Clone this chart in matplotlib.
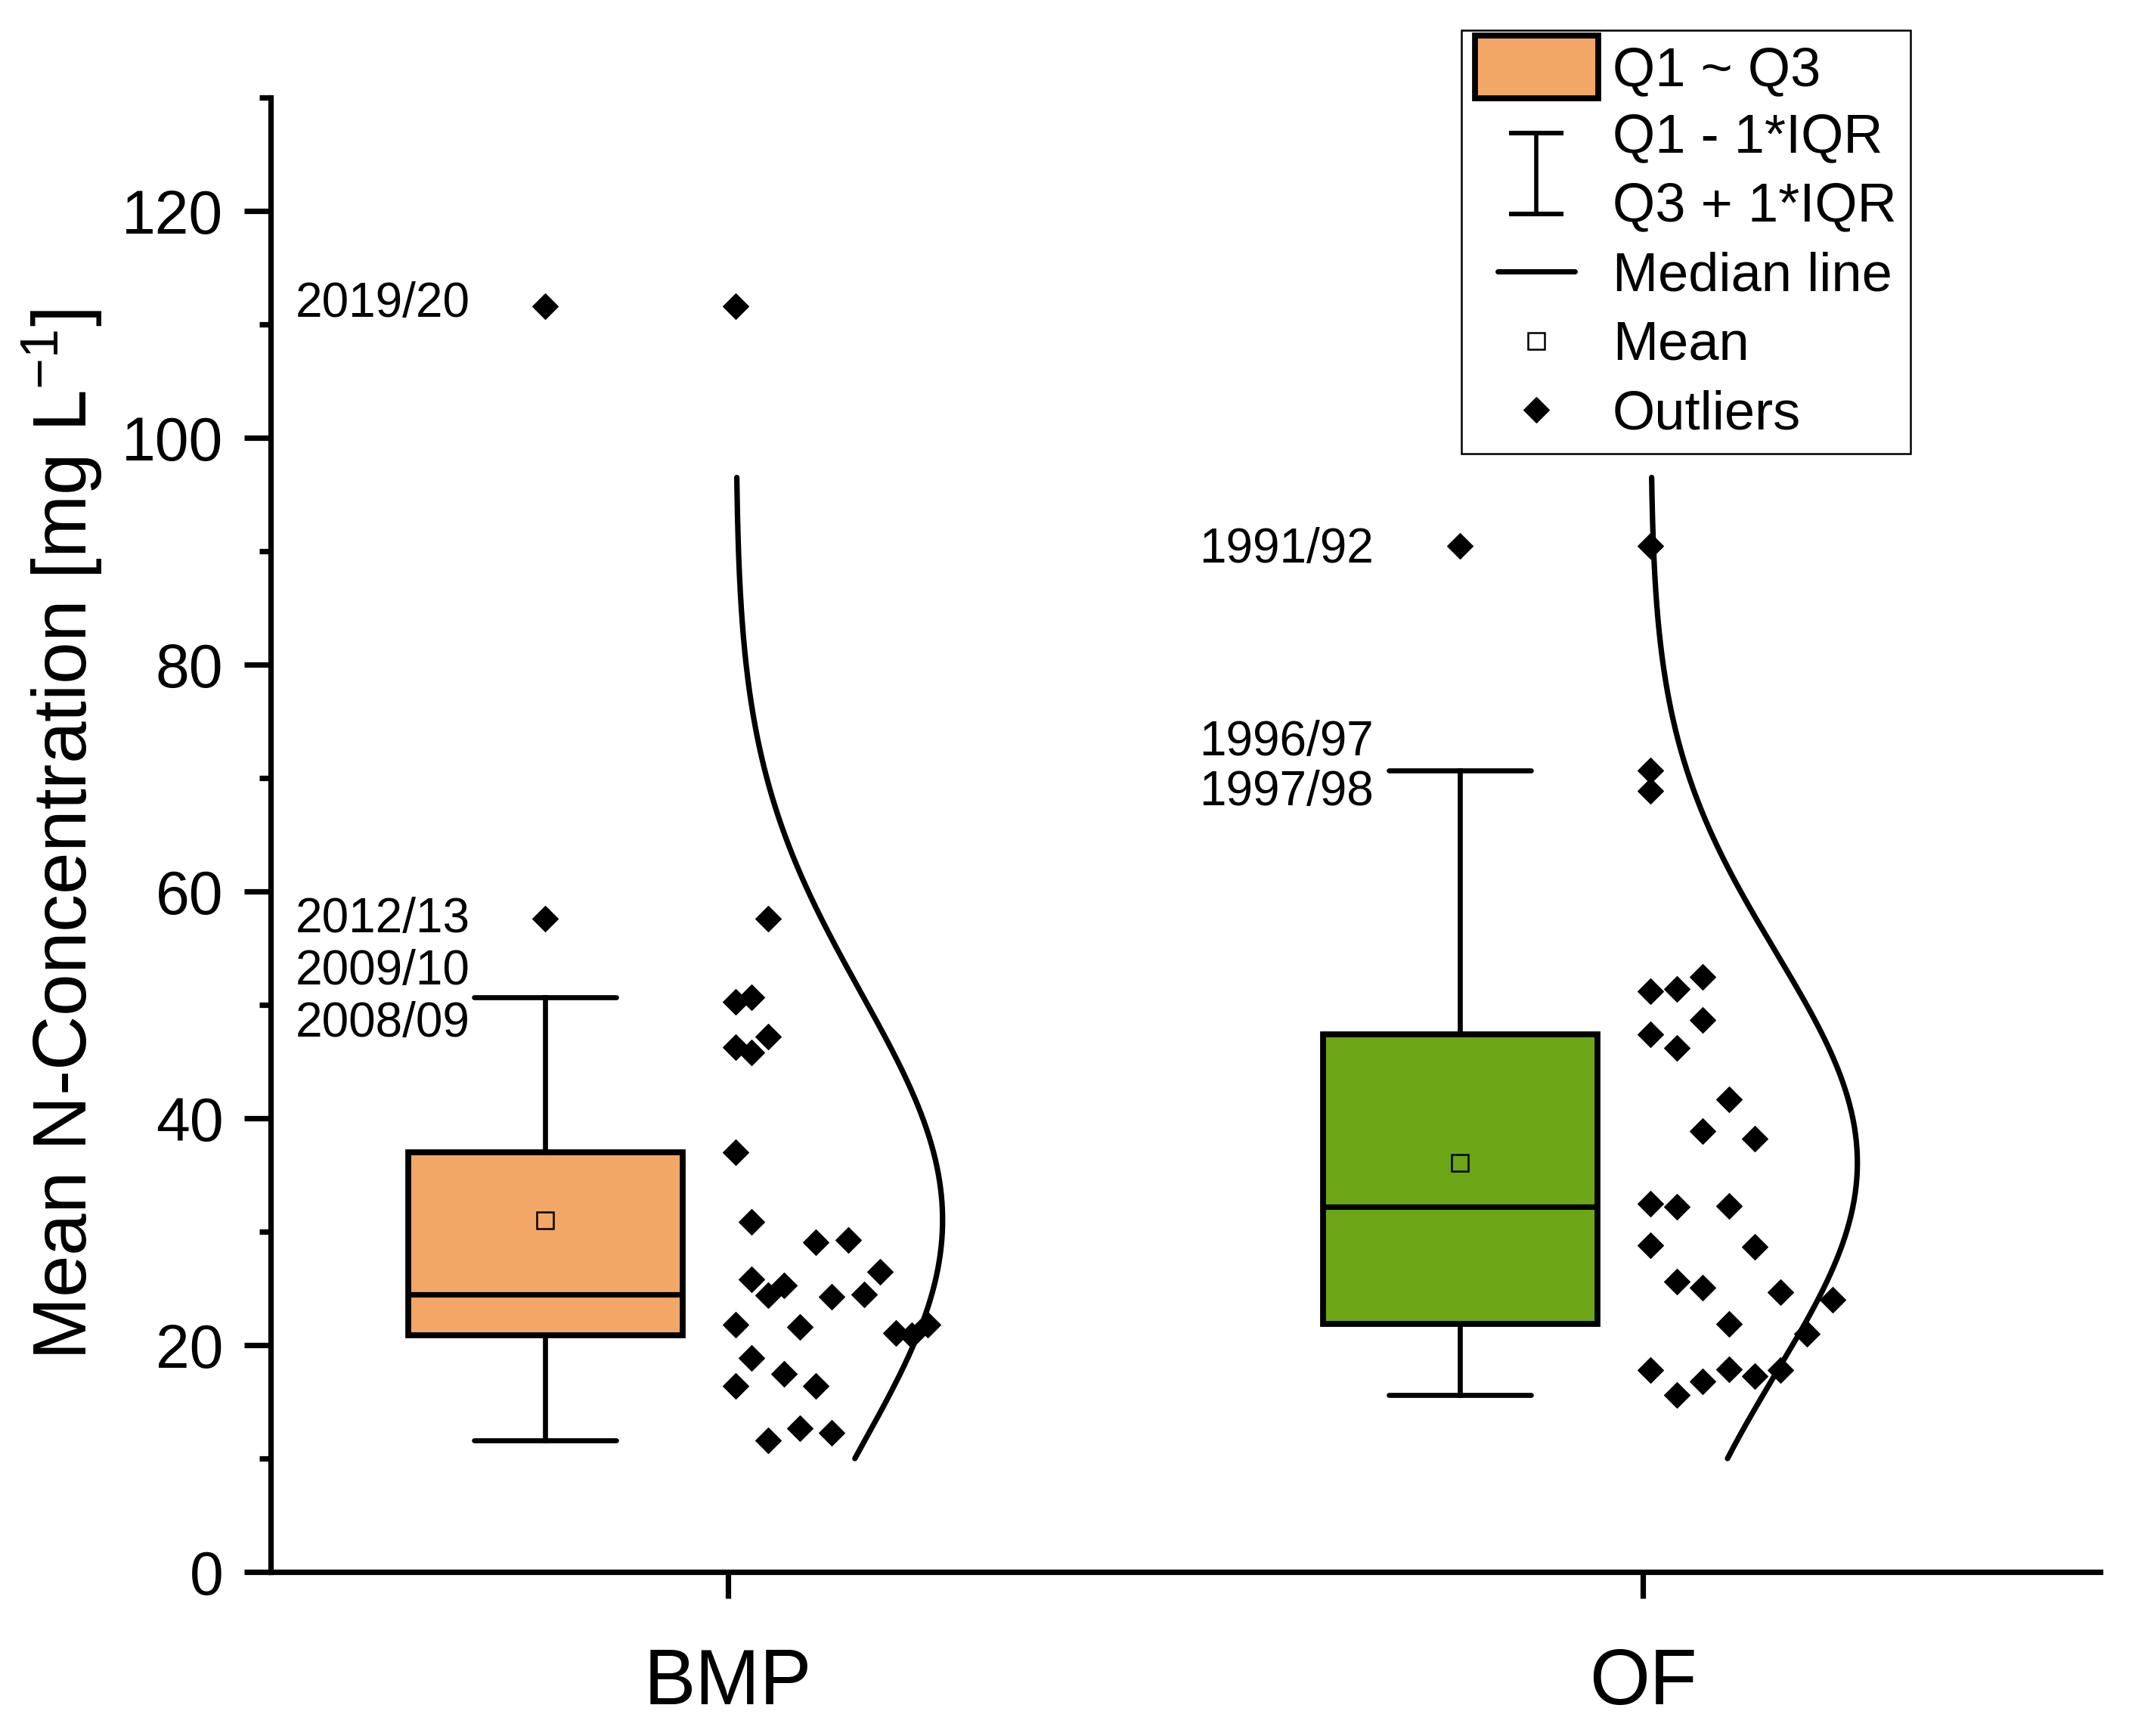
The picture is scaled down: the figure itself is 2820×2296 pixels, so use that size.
import numpy as np
import matplotlib
matplotlib.use("Agg")
import matplotlib.pyplot as plt
from matplotlib.lines import Line2D
from matplotlib.patches import Patch, Rectangle
from matplotlib.legend_handler import HandlerBase
from matplotlib.ticker import MultipleLocator
from matplotlib.transforms import ScaledTranslation

plt.rcParams['font.family'] = ['Liberation Sans', 'DejaVu Sans']
plt.rcParams['mathtext.fontset'] = 'custom'
plt.rcParams['mathtext.rm'] = 'Liberation Sans'
plt.rcParams['mathtext.it'] = 'Liberation Sans:italic'
plt.rcParams['mathtext.bf'] = 'Liberation Sans:bold'
plt.rcParams['mathtext.default'] = 'regular'

# ---------------- data ----------------
categories = ['BMP', 'OF']
# yearly mean N-concentrations (mg/L); within each 10-unit bin the order is
# the left-to-right order of the dots beside the boxes
bmp_values = [16.4, 18.9, 11.6, 17.5, 12.7, 16.4, 12.3,
              21.8, 25.8, 24.4, 25.3, 21.6, 29.1, 24.3, 29.3, 24.5, 26.5, 21.1, 20.9, 21.8,
              37.0, 30.9,
              46.3, 45.8, 47.2,
              50.3, 50.7, 57.6,
              111.6]
of_values = [17.8, 15.6, 16.8, 17.9, 17.3, 17.8,
             28.8, 25.6, 25.1, 21.9, 28.7, 24.7, 21.0, 24.0,
             32.5, 32.2, 38.9, 32.3, 38.2,
             47.4, 46.2, 48.7, 41.7,
             51.2, 51.4, 52.5,
             68.9, 70.7, 90.5]
bmp_year_labels = ['2019/20', '2012/13', '2009/10', '2008/09']
bmp_year_label_y = [112.2, 57.9, 53.3, 48.7]
of_year_labels = ['1991/92', '1996/97', '1997/98']
of_year_label_y = [90.5, 73.5, 69.1]
y_ticks = [0, 20, 40, 60, 80, 100, 120]
legend_labels = ['Q1 ~ Q3', 'Q1 - 1*IQR\nQ3 + 1*IQR', 'Median line', 'Mean', 'Outliers']

# ---------------- style / layout ----------------
W, H, DPI = 2820, 2296, 200
box_colors = ['#F3A766', '#6CA616']
cat_pos = [1, 2]
box_pos = [0.8, 1.8]
year_label_x = [0.718, 1.706]
DOT_OFFSET = 0.0085
DOT_SPAN = 0.2275
BIN_W = 10
CURVE_W = 0.226
CURVE_RANGE = (10, 96.5)
D_MS = 8.8

fig = plt.figure(figsize=(W / DPI, H / DPI), dpi=DPI)
ax = fig.add_axes([358 / W, 1 - 2079 / H, (2778 - 358) / W, (2079 - 129) / H])

groups = [bmp_values, of_values]

# box plot
bp = ax.boxplot(groups, positions=box_pos, widths=0.3, whis=1.0, showmeans=True,
                patch_artist=True, capwidths=0.155, manage_ticks=False,
                boxprops=dict(edgecolor='k', linewidth=2.8),
                whiskerprops=dict(color='k', linewidth=2.4),
                capprops=dict(color='k', linewidth=2.4, solid_capstyle='round'),
                medianprops=dict(color='k', linewidth=2.6),
                meanprops=dict(marker='s', markerfacecolor='none', markeredgecolor='k',
                               markeredgewidth=0.9, markersize=7.9),
                flierprops=dict(marker='D', markerfacecolor='k', markeredgecolor='k',
                                markersize=D_MS, markeredgewidth=0.4))
for patch, c in zip(bp['boxes'], box_colors):
    patch.set_facecolor(c)


def bin_columns(values, binw):
    bins = np.floor(np.asarray(values) / binw).astype(int)
    cols = np.zeros(len(values), dtype=int)
    counts = {}
    for i, b in enumerate(bins):
        cols[i] = counts.get(b, 0)
        counts[b] = cols[i] + 1
    return cols, max(counts.values())


for pos, vals in zip(cat_pos, groups):
    vals = np.asarray(vals, dtype=float)
    cols, nmax = bin_columns(vals, BIN_W)
    xs = pos + DOT_OFFSET + cols * (DOT_SPAN / nmax)
    ax.plot(xs, vals, ls='none', marker='D', ms=D_MS, mfc='k', mec='k', mew=0.4, zorder=3)
    # normal distribution curve
    m, s = vals.mean(), vals.std(ddof=1)
    yy = np.linspace(CURVE_RANGE[0], CURVE_RANGE[1], 400)
    xx = pos + DOT_OFFSET + CURVE_W * np.exp(-0.5 * ((yy - m) / s) ** 2)
    ax.plot(xx, yy, color='k', lw=2.6, solid_capstyle='round', zorder=2)

# year annotations
ANN_FS = 23
off = ScaledTranslation(0, -0.358 * ANN_FS / 72, fig.dpi_scale_trans)
for lx, labs, ys in zip(year_label_x, [bmp_year_labels, of_year_labels],
                        [bmp_year_label_y, of_year_label_y]):
    for lab, yv in zip(labs, ys):
        ax.text(lx, yv, lab, ha='right', va='baseline', fontsize=ANN_FS,
                transform=ax.transData + off)

# axes
ax.set_xlim(0.5, 2.5)
ax.set_ylim(0, 130)
ax.set_xticks(cat_pos)
ax.set_xticklabels(categories)
ax.set_yticks(y_ticks)
ax.yaxis.set_minor_locator(MultipleLocator(10))
for sp in ['top', 'right']:
    ax.spines[sp].set_visible(False)
for sp in ['left', 'bottom']:
    ax.spines[sp].set_linewidth(2.6)
ax.tick_params(axis='both', which='major', direction='out', length=12.5, width=2.6)
ax.tick_params(axis='y', which='minor', direction='out', length=5.5, width=2.6)
ax.tick_params(axis='y', which='major', labelsize=29, pad=10)
ax.tick_params(axis='x', which='major', labelsize=37, pad=23.5)
ax.set_ylabel('Mean N-Concentration [mg L$^{-1}$]', fontsize=36)
ax.yaxis.set_label_coords(-0.0911, 0.5)


# legend
class FuncHandler(HandlerBase):
    def __init__(self, func):
        super().__init__()
        self.func = func

    def create_artists(self, legend, orig_handle, xdescent, ydescent, width, height,
                       fontsize, trans):
        cx = -xdescent + width / 2
        cy = -ydescent + height / 2
        arts = self.func(cx, cy, width)
        for a in arts:
            a.set_transform(trans)
        return arts


def f_box(cx, cy, w):
    return [Rectangle((cx - w / 2, cy - 14.95), w, 29.9, facecolor=box_colors[0],
                      edgecolor='k', linewidth=2.8)]


def f_whisk(cx, cy, w):
    half, cw = 19.3, 11.9
    return [Line2D([cx - cw, cx + cw], [cy + half] * 2, color='k', lw=2.2),
            Line2D([cx - cw, cx + cw], [cy - half] * 2, color='k', lw=2.2),
            Line2D([cx, cx], [cy - half, cy + half], color='k', lw=2.0)]


def f_med(cx, cy, w):
    return [Line2D([cx - 18.4, cx + 18.4], [cy, cy], color='k', lw=2.5,
                   solid_capstyle='round')]


def f_mean(cx, cy, w):
    return [Line2D([cx], [cy], ls='none', marker='s', ms=7.9, mfc='white', mec='k', mew=0.9)]


def f_out(cx, cy, w):
    return [Line2D([cx], [cy], ls='none', marker='D', ms=D_MS, mfc='k', mec='k', mew=0.4)]


handles = [Patch(), Line2D([], []), Line2D([], []), Line2D([], []), Line2D([], [])]
hmap = {h: FuncHandler(f) for h, f in zip(handles, [f_box, f_whisk, f_med, f_mean, f_out])}
leg = ax.legend(handles, legend_labels, handler_map=hmap, loc='upper left',
                bbox_to_anchor=(1933 / W, 1 - 40 / H), bbox_transform=fig.transFigure,
                borderaxespad=0, fontsize=26, frameon=True, fancybox=False,
                edgecolor='k', framealpha=1, borderpad=0.25, labelspacing=0.3,
                handlelength=2.25, handleheight=0.9, handletextpad=0.27)
leg.get_frame().set_linewidth(0.9)
for t in leg.get_texts():
    if '\n' in t.get_text():
        t.set_linespacing(1.46)

fig.savefig('out.png', dpi=DPI, facecolor='white')
